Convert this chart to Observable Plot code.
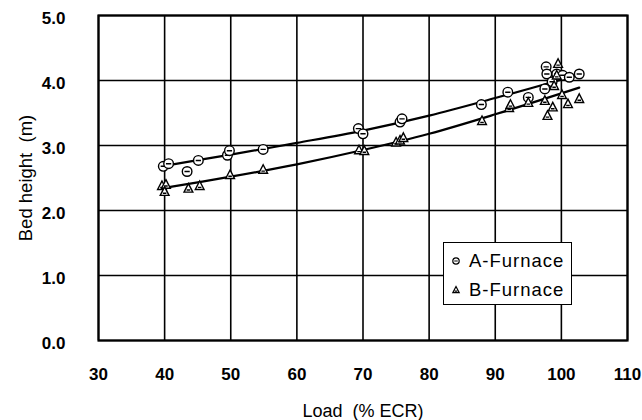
<!DOCTYPE html>
<html>
<head>
<meta charset="utf-8">
<script src="https://cdn.jsdelivr.net/npm/d3@7"></script>
<script src="https://cdn.jsdelivr.net/npm/@observablehq/plot@0.6"></script>
<style>
  html, body { margin: 0; padding: 0; background: #fff; }
  #wrap { position: relative; width: 642px; height: 420px; font-family: "Liberation Sans", Arial, sans-serif; }
  #legend { position: absolute; left: 443px; top: 242px; width: 127px; height: 61px; border: 1.6px solid #000; background: #fff; box-sizing: content-box; }
  .row { position: absolute; left: 6px; height: 24px; display: flex; align-items: center; font-size: 18.5px; letter-spacing: 1px; color: #000; }
  .row svg { margin-right: 7px; }
</style>
</head>
<body>
<div id="wrap"></div>
<script>
// ---- data ----
const xTicks = [30, 40, 50, 60, 70, 80, 90, 100, 110];
const yTicks = [0, 1, 2, 3, 4, 5];

const aLoad   = [39.8, 40.6, 43.4, 45.1, 49.5, 49.8, 54.9, 69.3, 70.0, 75.6, 75.9, 87.9, 91.9, 95.0, 97.7, 97.8, 97.5, 98.6, 99.3, 100.2, 101.2, 102.7];
const aHeight = [2.68, 2.72, 2.60, 2.77, 2.85, 2.92, 2.94, 3.26, 3.18, 3.36, 3.41, 3.63, 3.82, 3.74, 4.21, 4.10, 3.87, 3.98, 4.10, 4.08, 4.05, 4.10];

const bLoad   = [39.6, 40.2, 40.0, 43.6, 45.3, 49.9, 54.9, 69.4, 70.2, 75.0, 75.6, 76.1, 88.0, 92.1, 92.3, 95.0, 97.5, 97.9, 98.7, 98.9, 99.3, 99.5, 100.1, 101.0, 102.7];
const bHeight = [2.38, 2.40, 2.29, 2.34, 2.38, 2.55, 2.63, 2.93, 2.92, 3.05, 3.08, 3.12, 3.38, 3.58, 3.63, 3.66, 3.69, 3.46, 3.59, 3.92, 4.08, 4.26, 3.78, 3.64, 3.72];

const fitLoad = [39.5, 50, 60, 70, 80, 90, 102.7];
const fitA    = [2.68, 2.86, 3.04, 3.23, 3.46, 3.73, 4.09];
const fitB    = [2.34, 2.52, 2.71, 2.93, 3.18, 3.48, 3.89];

const seriesNames = ["A-Furnace", "B-Furnace"];

// ---- tables ----
const A = aLoad.map((x, i) => ({x, y: aHeight[i]}));
const B = bLoad.map((x, i) => ({x, y: bHeight[i]}));
const FA = fitLoad.map((x, i) => ({x, y: fitA[i]}));
const FB = fitLoad.map((x, i) => ({x, y: fitB[i]}));

// ---- custom symbols ----
const circleBar = {
  draw(ctx, size) {
    const r = Math.sqrt(size / Math.PI);
    ctx.moveTo(r, 0);
    ctx.arc(0, 0, r, 0, 2 * Math.PI);
    ctx.closePath();
    ctx.moveTo(-r * 0.55, 0);
    ctx.lineTo(r * 0.55, 0);
  }
};
const triBar = {
  draw(ctx, size) {
    const s = Math.sqrt(size / Math.PI);
    ctx.moveTo(0, -s * 1.1);
    ctx.lineTo(s * 1.0, s * 0.85);
    ctx.lineTo(-s * 1.0, s * 0.85);
    ctx.closePath();
    ctx.moveTo(-s * 0.4, s * 0.35);
    ctx.lineTo(s * 0.4, s * 0.35);
  }
};

const font = "Liberation Sans, Arial, sans-serif";

const chart = Plot.plot({
  width: 642,
  height: 420,
  marginLeft: 98,
  marginRight: 15,
  marginTop: 15,
  marginBottom: 80,
  style: { fontFamily: font, fontSize: "17px", color: "#000", background: "#fff" },
  x: { domain: [30, 110] },
  y: { domain: [0, 5] },
  marks: [
    Plot.gridX(xTicks, { stroke: "#000", strokeOpacity: 1, strokeWidth: 1.6 }),
    Plot.gridY(yTicks, { stroke: "#000", strokeOpacity: 1, strokeWidth: 1.6 }),
    Plot.frame({ stroke: "#000", strokeWidth: 2.2 }),
    Plot.axisX({ ticks: xTicks, tickSize: 0, tickPadding: 27, tickFormat: d => String(d), label: null, fontSize: 17, fontWeight: "bold" }),
    Plot.axisY({ ticks: yTicks, tickSize: 0, tickPadding: 33, tickFormat: d => d.toFixed(1), label: null, fontSize: 17, fontWeight: "bold", dy: 3 }),
    Plot.line(FA, { x: "x", y: "y", curve: "catmull-rom", stroke: "#000", strokeWidth: 2.2 }),
    Plot.line(FB, { x: "x", y: "y", curve: "catmull-rom", stroke: "#000", strokeWidth: 2.2 }),
    Plot.dot(A, { x: "x", y: "y", r: 4.8, symbol: circleBar, fill: "#fff", stroke: "#000", strokeWidth: 1.4 }),
    Plot.dot(B, { x: "x", y: "y", r: 4.4, symbol: triBar, fill: "#fff", stroke: "#000", strokeWidth: 1.4 }),
    Plot.text(["Load  (% ECR)"], { frameAnchor: "bottom", textAnchor: "middle", lineAnchor: "middle", dy: 71, fontSize: 18, fill: "#000" }),
    Plot.text(["Bed height  (m)"], { frameAnchor: "left", textAnchor: "middle", lineAnchor: "middle", dx: -72, rotate: -90, fontSize: 18.5, fill: "#000" })
  ]
});

const wrap = document.getElementById("wrap");
wrap.appendChild(chart);

// ---- legend ----
const legend = document.createElement("div");
legend.id = "legend";
function icon(sym, r) {
  const p = d3.path();
  sym.draw(p, r * r * Math.PI);
  return `<svg width="12" height="12" viewBox="-6 -6 12 12"><path d="${p.toString()}" fill="#fff" stroke="#000" stroke-width="1.2"/></svg>`;
}
legend.innerHTML =
  `<div class="row" style="top:6px">${icon(circleBar, 3.2)}<span>${seriesNames[0]}</span></div>` +
  `<div class="row" style="top:35px">${icon(triBar, 3.2)}<span>${seriesNames[1]}</span></div>`;
wrap.appendChild(legend);
</script>
</body>
</html>
